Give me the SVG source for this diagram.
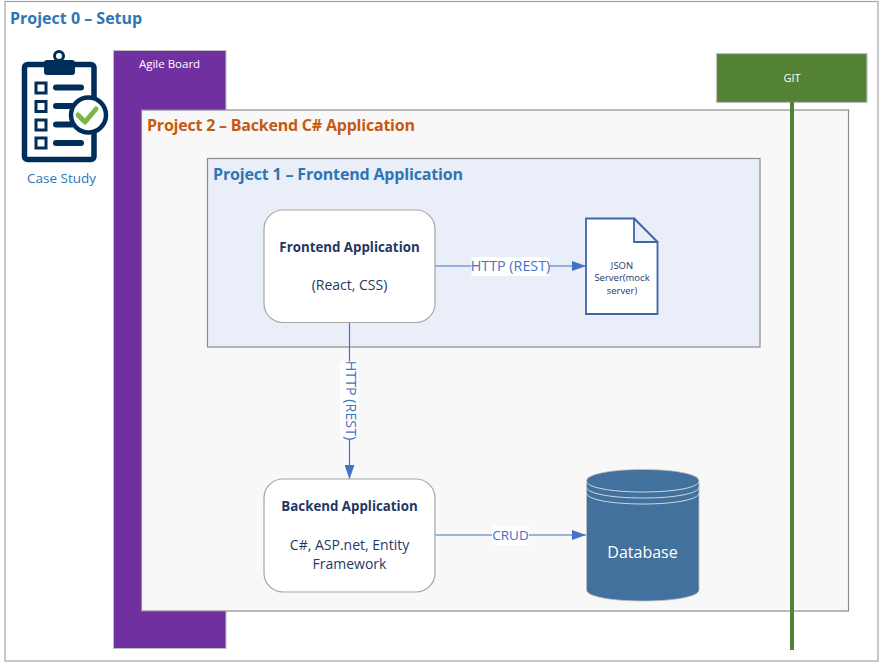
<svg xmlns="http://www.w3.org/2000/svg" width="880" height="663" viewBox="0 0 880 663">
<style>
text{font-family:"Open Sans","Noto Sans","DejaVu Sans",sans-serif}
.title{font-size:16px;font-weight:700}
.blue{fill:#2e75b6}
.node{fill:#fff;stroke:#a6a6a6;stroke-width:1.2}
.head{font-size:13.300px;font-weight:700;fill:#1f3864;text-anchor:middle}
.sub{font-size:14px;fill:#1f3864;text-anchor:middle}
.lbl{font-size:13.500px;fill:#4472c4;text-anchor:middle}
.http{font-size:14.300px}
.line{stroke:#4472c4;stroke-width:1.2;fill:none;marker-end:url(#arrow)}
.ic{fill:none;stroke:#002d5a;stroke-linecap:round}
</style>
<defs>
<marker id="arrow" markerUnits="userSpaceOnUse" markerWidth="14" markerHeight="10" refX="14" refY="5" orient="auto"><path d="M0 0L14 5L0 10Z" fill="#4472c4"/></marker>
</defs>
<rect width="880" height="663" fill="#fff"/>
<g id="project0">
<rect x="5" y="1.500" width="873" height="659.500" fill="#fff" stroke="#a6a6a6" stroke-width="1.200"/>
<text x="10" y="24" class="title blue">Project 0 – Setup</text>
</g>
<g id="case-study">
<rect x="24.500" y="64.500" width="69.500" height="95" rx="3" fill="#fff" stroke="#002d5a" stroke-width="5.500"/>
<circle cx="59" cy="56" r="4.500" fill="#fff" stroke="#002d5a" stroke-width="3"/>
<rect x="44" y="60" width="31" height="15" rx="3" fill="#002d5a"/>
<g fill="#fff" stroke="#002d5a" stroke-width="3">
<rect x="36" y="83" width="10" height="10"/>
<rect x="36" y="101.500" width="10" height="10"/>
<rect x="36" y="120" width="10" height="10"/>
<rect x="36" y="138" width="10" height="10"/>
</g>
<g class="ic" stroke-width="6">
<path d="M56 87.500H81"/>
<path d="M56 106H72"/>
<path d="M56 124.500H72"/>
<path d="M56 143H81"/>
</g>
<circle cx="88.500" cy="115" r="17.500" fill="#fff" stroke="#002d5a" stroke-width="4.500"/>
<path d="M78 115L85 122L96 109" fill="none" stroke="#7ab648" stroke-width="5" stroke-linecap="round" stroke-linejoin="round"/>
<text x="61.500" y="183" font-size="13.500" fill="#2e75b6" text-anchor="middle">Case Study</text>
</g>
<g id="agile-board">
<rect x="113.500" y="50.500" width="112.500" height="598" fill="#7030a0" stroke="#bfbfbf" stroke-width="1"/>
<text x="169.500" y="68" font-size="11.500" fill="#fff" text-anchor="middle">Agile Board</text>
</g>
<g id="project2">
<rect x="141.500" y="110" width="707" height="501" fill="#f8f8f8" stroke="#8c8c8c" stroke-width="1.200"/>
<text x="147" y="131" class="title" fill="#c55a11" textLength="268">Project 2 – Backend C# Application</text>
</g>
<g id="project1">
<rect x="207.500" y="158.500" width="552.500" height="188.500" fill="#e9eef9" stroke="#8c8c8c" stroke-width="1.200"/>
<text x="213" y="180" class="title blue" textLength="250">Project 1 – Frontend Application</text>
</g>
<g id="connectors">
<path class="line" d="M435 266H586"/>
<rect x="471.500" y="257" width="78" height="19" fill="#fff"/>
<text x="510.500" y="271" class="lbl http">HTTP (REST)</text>
<path class="line" d="M349.500 322V479"/>
<rect x="340" y="361.500" width="19" height="78" fill="#fff"/>
<text transform="translate(345.500 400.500) rotate(90)" class="lbl http">HTTP (REST)</text>
<path class="line" d="M435 535H586"/>
<rect x="492" y="526" width="37" height="19" fill="#fff"/>
<text x="510.500" y="540" class="lbl">CRUD</text>
</g>
<g id="frontend">
<rect x="264" y="210" width="171" height="112.500" rx="19" class="node"/>
<text x="349.500" y="252" class="head">Frontend Application</text>
<text x="349.500" y="290" class="sub">(React, CSS)</text>
</g>
<g id="backend">
<rect x="264" y="479" width="171" height="113" rx="19" class="node"/>
<text x="349.500" y="511" class="head">Backend Application</text>
<text x="349.500" y="550" class="sub">C#, ASP.net, Entity</text>
<text x="349.500" y="569" class="sub">Framework</text>
</g>
<g id="json-server">
<path d="M586 218.500H634L657.500 242V314H586Z" fill="#fff" stroke="#3f66ab" stroke-width="1.800"/>
<path d="M634 218.500V242H657.500Z" fill="#e9eef9" stroke="#3f66ab" stroke-width="1.800" stroke-linejoin="round"/>
<g font-size="9.500" fill="#1f3864" text-anchor="middle">
<text x="622" y="269">JSON</text>
<text x="622" y="281">Server(mock</text>
<text x="622" y="294">server)</text>
</g>
</g>
<g id="database">
<path d="M586.500 481C586.500 474 611 469.500 643 469.500C675 469.500 699 474 699 481V590C699 596.500 675 601 643 601C611 601 586.500 596.500 586.500 590Z" fill="#41719c" stroke="#bfbfbf" stroke-width="0.800"/>
<g fill="none" stroke="#d0d8e0" stroke-width="1">
<path d="M586.500 481C586.500 487.500 611 492 643 492C675 492 699 487.500 699 481"/>
<path d="M586.500 487C586.500 493.500 611 498 643 498C675 498 699 493.500 699 487"/>
<path d="M586.500 493C586.500 499.500 611 504 643 504C675 504 699 499.500 699 493"/>
</g>
<text x="642.500" y="558" font-size="16" fill="#fff" text-anchor="middle">Database</text>
</g>
<g id="git">
<rect x="716.500" y="53.500" width="150.500" height="49" fill="#548235" stroke="#bfbfbf" stroke-width="1.200"/>
<text x="792" y="82" font-size="11" fill="#fff" text-anchor="middle">GIT</text>
<path d="M792 102V650" stroke="#548235" stroke-width="4" fill="none"/>
</g>
</svg>
